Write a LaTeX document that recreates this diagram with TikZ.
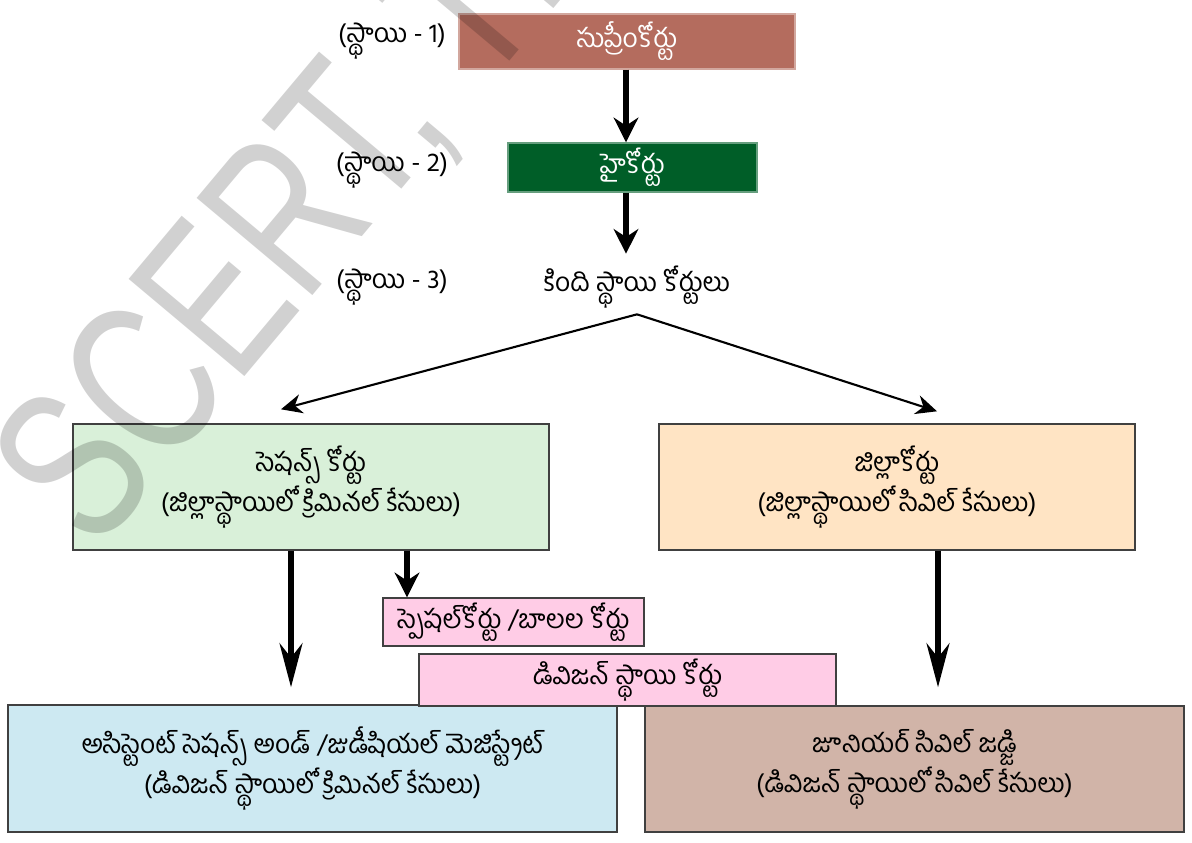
\documentclass[tikz,border=0pt]{standalone}
\usepackage{fontspec}
\usetikzlibrary{arrows.meta, positioning}
\newfontfamily\tel[Script=Telugu]{Hind Guntur}
\newfontfamily\wmfont[FakeStretch=0.72]{Liberation Sans}
\definecolor{supremered}{RGB}{180,108,94}
\definecolor{highgreen}{RGB}{0,94,40}
\definecolor{sessgreen}{RGB}{217,240,217}
\definecolor{distorange}{RGB}{255,228,196}
\definecolor{lowpink}{RGB}{255,204,230}
\definecolor{asstblue}{RGB}{205,233,242}
\definecolor{juniorbrown}{RGB}{209,180,168}

\begin{document}
\begin{tikzpicture}[
    box/.style={rectangle, draw=black!75, line width=0.8pt, inner sep=0pt, align=center, font=\tel\fontsize{15}{20}\selectfont},
    label/.style={font=\tel\fontsize{15}{20}\selectfont},
    down/.style={-{Stealth[length=14pt, width=14pt]}, line width=3.4pt},
    longdown/.style={-{Stealth[length=25pt, width=13pt]}, line width=3.4pt},
    branch/.style={-{Stealth[length=12pt, width=11pt]}, line width=1.2pt}
]
    \useasboundingbox (0,0) rectangle (23.84,-16.86);

    % Level labels
    \node[label] (lvlone) at (7.84,-0.82) {(స్థాయి - 1)};
    \node[label] (lvltwo) at (7.84,-3.40) {(స్థాయి - 2)};
    \node[label] (lvlthree) at (7.84,-5.74) {(స్థాయి - 3)};

    % Supreme court and high court
    \node[box, fill=supremered, draw=supremered!60, text=white, minimum width=6.72cm, minimum height=1.1cm] (supreme) at (12.54,-0.83) {సుప్రీంకోర్టు};
    \node[box, fill=highgreen, draw=highgreen!60, text=white, minimum width=4.98cm, minimum height=0.98cm] (high) at (12.65,-3.35) {హైకోర్టు};

    % Lower courts
    \node[label] (lower) at (12.74,-5.74) {కింది స్థాయి కోర్టులు};

    % District level
    \node[box, fill=sessgreen, minimum width=9.52cm, minimum height=2.52cm] (sessions) at (6.22,-9.74) {సెషన్స్ కోర్టు\\(జిల్లాస్థాయిలో క్రిమినల్ కేసులు)};
    \node[box, fill=distorange, minimum width=9.52cm, minimum height=2.52cm] (district) at (17.94,-9.74) {జిల్లాకోర్టు\\(జిల్లాస్థాయిలో సివిల్ కేసులు)};

    % Special and division courts
    \node[box, fill=lowpink, minimum width=5.22cm, minimum height=0.96cm] (special) at (10.27,-12.44) {స్పెషల్‌కోర్టు /బాలల కోర్టు};

    % Division level
    \node[box, fill=asstblue, minimum width=12.18cm, minimum height=2.54cm] (assistant) at (6.25,-15.37) {అసిస్టెంట్ సెషన్స్ అండ్ /జుడీషియల్ మెజిస్ట్రేట్\\(డివిజన్ స్థాయిలో క్రిమినల్ కేసులు)};
    \node[box, fill=juniorbrown, minimum width=10.78cm, minimum height=2.52cm] (junior) at (18.29,-15.38) {జూనియర్ సివిల్ జడ్జి\\(డివిజన్ స్థాయిలో సివిల్ కేసులు)};
    \node[box, fill=lowpink, minimum width=8.34cm, minimum height=1.04cm] (division) at (12.55,-13.60) {డివిజన్ స్థాయి కోర్టు};

    % Connections
    \draw[down] ([xshift=-0.02cm]supreme.south) -- ([xshift=-0.02cm]supreme.south |- high.north);
    \draw[down] ([xshift=-0.02cm]supreme.south |- high.south) -- ([xshift=-0.02cm,yshift=0.12cm]supreme.south |- lower.north);

    \draw[branch] (lower.south) -- ([xshift=-0.6cm,yshift=0.28cm]sessions.north);
    \draw[branch] (lower.south) -- ([xshift=0.8cm,yshift=0.24cm]district.north);

    \draw[longdown, shorten >=0.34cm] ([xshift=-0.4cm]sessions.south) -- ([xshift=-0.4cm]sessions.south |- assistant.north);
    \draw[down] ([xshift=1.92cm]sessions.south) -- ([xshift=1.92cm]sessions.south |- special.north);
    \draw[longdown, shorten >=0.36cm] ([xshift=0.82cm]district.south) -- ([xshift=0.82cm]district.south |- junior.north);

    % Watermark
    \begin{scope}
        \clip (0,0) rectangle (23.84,-16.86);
        \node[rotate=50, anchor=base west, inner sep=0pt, font=\wmfont\fontsize{125}{125}\selectfont, text=black, text opacity=0.18] (mark) at (1.9,-11.1) {SCERT, TELANGANA};
    \end{scope}
\end{tikzpicture}
\end{document}
